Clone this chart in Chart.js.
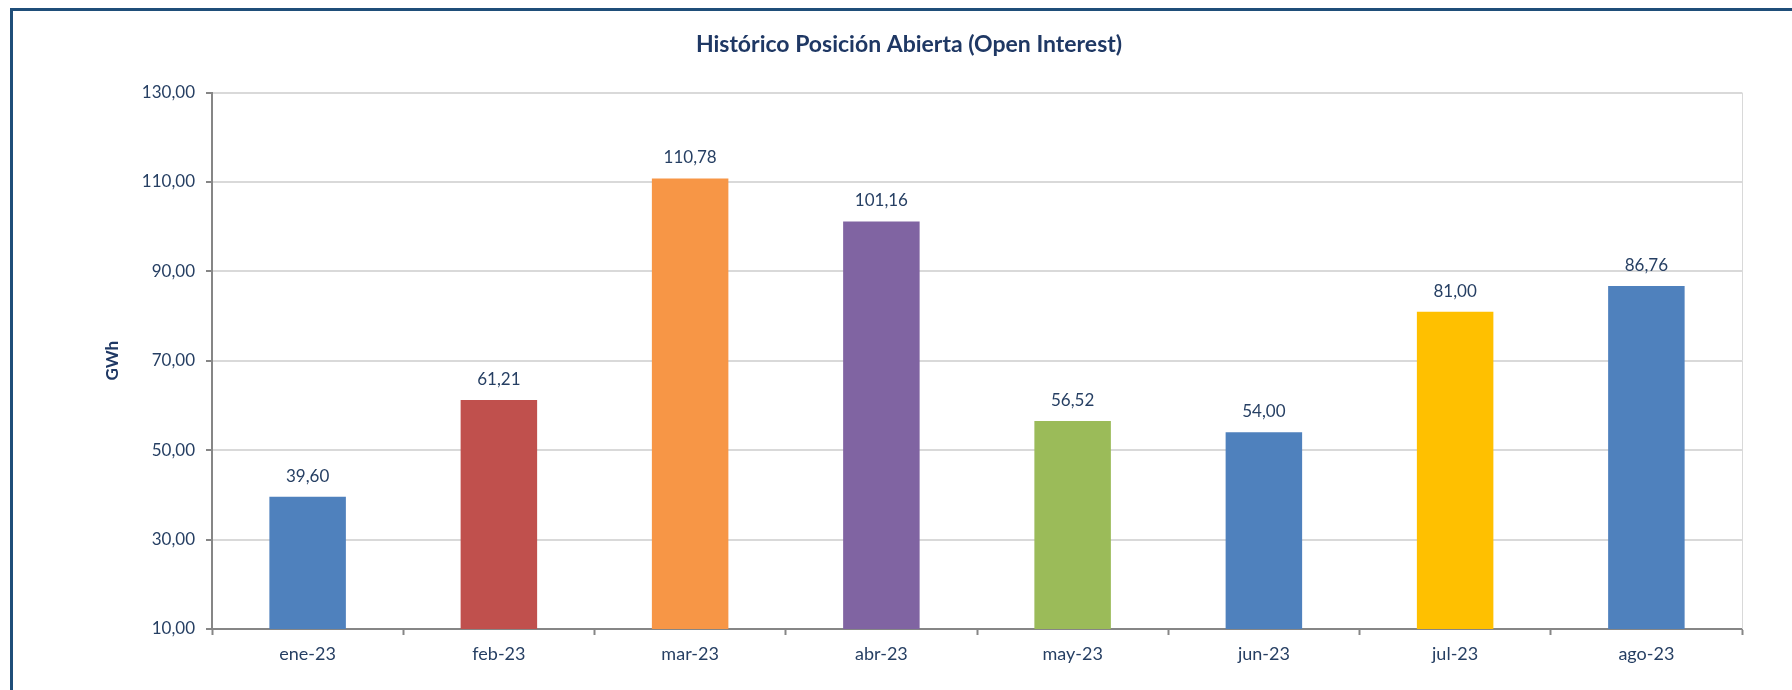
<!DOCTYPE html>
<html>
<head>
<meta charset="utf-8">
<script src="https://cdn.jsdelivr.net/npm/chart.js@4.4.0/dist/chart.umd.min.js"></script>
<style>
  html, body { margin: 0; padding: 0; background: #fff; }
  #wrap { position: relative; width: 1792px; height: 690px; }
  #frame {
    position: absolute; left: 10px; top: 8px; right: 0; bottom: 0;
    border-top: 3px solid #1F4E79; border-left: 3px solid #1F4E79;
    pointer-events: none;
  }
</style>
</head>
<body>
<div id="wrap">
  <canvas id="oiChart" width="1792" height="690"></canvas>
  <div id="frame"></div>
</div>
<script>
/* ---- Data ---- */
const months = ["ene-23", "feb-23", "mar-23", "abr-23", "may-23", "jun-23", "jul-23", "ago-23"];
const openInterest = [39.60, 61.21, 110.78, 101.16, 56.52, 54.00, 81.00, 86.76];
const barColors = ["#4F81BD", "#C0504D", "#F79646", "#8064A2", "#9BBB59", "#4F81BD", "#FFC000", "#4F81BD"];
const yTicks = [10, 30, 50, 70, 90, 110, 130];

const navy = "#1F3864";
const fmt = v => v.toFixed(2).replace(".", ",");

/* ---- Value labels above bars ---- */
const valueLabels = {
  id: "valueLabels",
  afterDatasetsDraw(chart) {
    const ctx = chart.ctx;
    const meta = chart.getDatasetMeta(0);
    ctx.save();
    ctx.font = "17px Lato";
    ctx.fillStyle = "#263F63";
    ctx.textAlign = "center";
    ctx.textBaseline = "bottom";
    meta.data.forEach((bar, i) => {
      ctx.fillText(fmt(openInterest[i]), bar.x, bar.y - 12);
    });
    ctx.restore();
  }
};

/* ---- Right border of plot area ---- */
const plotBorder = {
  id: "plotBorder",
  beforeDatasetsDraw(chart) {
    const { ctx, chartArea } = chart;
    ctx.save();
    ctx.strokeStyle = "#D9D9D9";
    ctx.lineWidth = 1;
    ctx.beginPath();
    ctx.moveTo(chartArea.right + 0.5, chartArea.top);
    ctx.lineTo(chartArea.right + 0.5, chartArea.bottom);
    ctx.stroke();
    ctx.restore();
  }
};

new Chart(document.getElementById("oiChart"), {
  type: "bar",
  data: {
    labels: months,
    datasets: [{
      label: "Open Interest",
      data: openInterest,
      backgroundColor: barColors,
      barPercentage: 0.4,
      categoryPercentage: 1
    }]
  },
  plugins: [valueLabels, plotBorder],
  options: {
    responsive: false,
    animation: false,
    layout: { padding: { left: 76, right: 50, top: 0, bottom: 0 } },
    plugins: {
      legend: { display: false },
      tooltip: { enabled: false },
      title: {
        display: true,
        text: "Histórico Posición Abierta (Open Interest)",
        color: navy,
        font: { family: "Lato", size: 23, weight: "bold", lineHeight: 1.2 },
        padding: { top: 31, bottom: 34 }
      }
    },
    scales: {
      x: {
        offset: true,
        grid: {
          offset: true,
          drawOnChartArea: false,
          tickLength: 6,
          tickColor: "#868686",
          tickWidth: 2
        },
        border: { color: "#868686", width: 2 },
        ticks: {
          color: "#263F63",
          font: { family: "Lato", size: 18 },
          padding: 8
        },
        afterFit(scale) { scale.height = 61; }
      },
      y: {
        min: 10,
        max: 130,
        afterBuildTicks(scale) { scale.ticks = yTicks.map(v => ({ value: v })); },
        grid: {
          color: "#D9D9D9",
          lineWidth: 2,
          tickLength: 6,
          tickColor: "#868686"
        },
        border: { color: "#868686", width: 2 },
        ticks: {
          color: "#263F63",
          font: { family: "Lato", size: 17 },
          padding: 11,
          callback: v => fmt(v)
        },
        title: {
          display: true,
          text: "GWh",
          color: navy,
          font: { family: "Lato", size: 17, weight: "bold", lineHeight: 1.2 },
          padding: { top: 26, bottom: 0 }
        },
        afterFit(scale) { scale.width = 136; }
      }
    }
  }
});
</script>
</body>
</html>
